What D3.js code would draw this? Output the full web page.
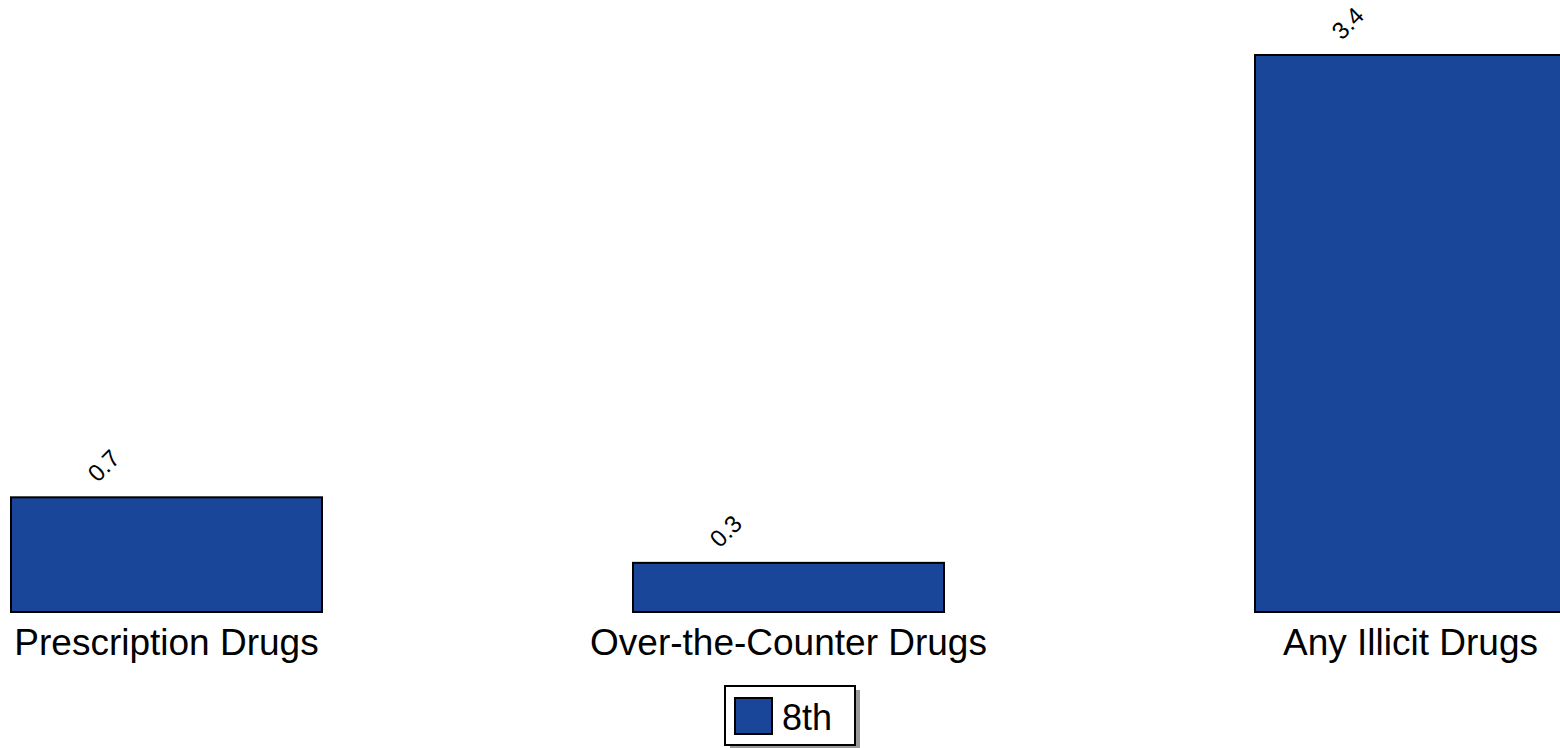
<!DOCTYPE html>
<html><head><meta charset="utf-8">
<script src="https://cdn.jsdelivr.net/npm/d3@7"></script>
<style>body{margin:0;background:#fff;}svg{display:block;font-family:"Liberation Sans",Arial,sans-serif;}</style>
</head><body>
<script>
const categories = ["Prescription Drugs", "Over-the-Counter Drugs", "Any Illicit Drugs"];
const values8th = [0.7, 0.3, 3.4];
const seriesName = "8th";
const barColor = "#1a4699";

const W = 1560, H = 748;
const svg = d3.select("body").append("svg").attr("width", W).attr("height", H);

const x = d3.scaleBand().domain(categories).range([-144.5, 1721.5]).paddingInner(0.5).paddingOuter(0.25);
const y = d3.scaleLinear().domain([0, 3.4]).range([612, 55]);

svg.selectAll("rect.bar").data(categories).join("rect")
  .attr("class", "bar")
  .attr("x", d => x(d)).attr("width", x.bandwidth())
  .attr("y", (d, i) => y(values8th[i])).attr("height", (d, i) => y(0) - y(values8th[i]))
  .attr("fill", barColor).attr("stroke", "#000").attr("stroke-width", 2);

svg.selectAll("text.val").data(categories).join("text")
  .attr("class", "val")
  .attr("transform", (d, i) => `translate(${x(d) + x.bandwidth() / 4 + 9},${y(values8th[i]) - 14}) rotate(-45)`)
  .attr("font-size", 24).attr("fill", "#000")
  .text((d, i) => values8th[i].toFixed(1));

svg.selectAll("text.cat").data(categories).join("text")
  .attr("class", "cat")
  .attr("x", d => x(d) + x.bandwidth() / 2).attr("y", 655)
  .attr("text-anchor", "middle").attr("font-size", 37).attr("fill", "#000")
  .text(d => d);

// legend
const lg = svg.append("g");
lg.append("rect").attr("x", 730).attr("y", 690).attr("width", 130).attr("height", 59).attr("fill", "#999");
lg.append("rect").attr("x", 725).attr("y", 686).attr("width", 130).attr("height", 59).attr("fill", "#fff").attr("stroke", "#000").attr("stroke-width", 2);
lg.append("rect").attr("x", 735).attr("y", 698).attr("width", 37).attr("height", 36).attr("fill", barColor).attr("stroke", "#000").attr("stroke-width", 2);
lg.append("text").attr("x", 782).attr("y", 730).attr("font-size", 36).attr("fill", "#000").text(seriesName);
</script>
</body></html>
